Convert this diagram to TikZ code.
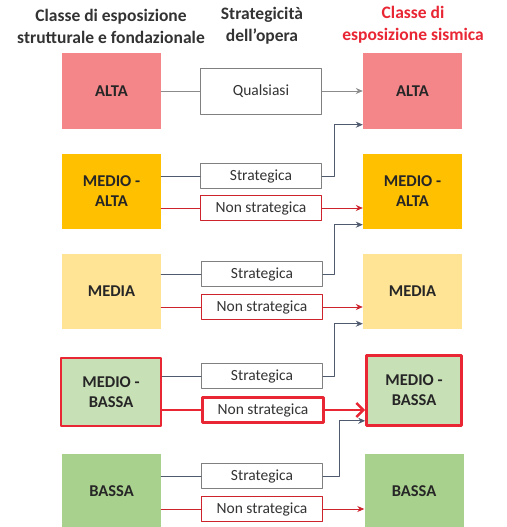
\documentclass[tikz,border=0pt]{standalone}
\usepackage{fontspec}
\setmainfont{Carlito}
\usetikzlibrary{arrows.meta}
\definecolor{altac}{RGB}{244,134,138}
\definecolor{medaltac}{RGB}{255,192,0}
\definecolor{mediac}{RGB}{255,228,150}
\definecolor{medbassac}{RGB}{200,224,182}
\definecolor{bassac}{RGB}{169,209,142}
\definecolor{redc}{RGB}{205,35,45}
\definecolor{hotred}{RGB}{232,38,52}
\definecolor{connc}{RGB}{80,90,110}
\tikzset{
  classe/.style={minimum width=99pt,minimum height=75pt,align=center,
    font=\fontsize{16.5}{20}\selectfont\bfseries,text=black!85,inner sep=0pt},
  strat/.style={draw=black!50,line width=0.9pt,fill=white,minimum width=121pt,
    minimum height=25pt,font=\fontsize{15.5}{17}\selectfont,text=black!80,inner sep=0pt},
  nonstrat/.style={strat,draw=redc},
  conn/.style={draw=connc,line width=0.9pt},
  redline/.style={draw=redc,line width=0.9pt},
  tip/.style={-{Stealth[length=7pt,width=6pt]}},
  head/.style={align=center,font=\fontsize{17.5}{22}\selectfont\bfseries,text=black!80}
}
\begin{document}
\begin{tikzpicture}[x=1pt,y=-1pt,line cap=round,line join=round]
  \useasboundingbox (0,0) rectangle (506,527);
  \clip (0,0) rectangle (506,527);
  % intestazioni
  \node[head] (h1) at (111,26) {Classe di esposizione\\strutturale e fondazionale};
  \node[head] (h2) at (262,26) {Strategicit\`a\\dell'opera};
  \node[head,text=hotred] (h3) at (413,25) {Classe di\\esposizione sismica};
  % classi
  \node[classe,fill=altac] (l1) at (111.5,91) {ALTA};
  \node[classe,fill=medaltac] (l2) at (111.5,191) {MEDIO -\\ALTA};
  \node[classe,fill=mediac] (l3) at (111.5,291) {MEDIA};
  \node[classe,fill=medbassac,draw=hotred,line width=2.6pt,minimum width=100pt,minimum height=68pt] (l4) at (111,392) {MEDIO -\\BASSA};
  \node[classe,fill=bassac] (l5) at (111.5,491) {BASSA};
  \node[classe,fill=altac] (r1) at (412.5,91) {ALTA};
  \node[classe,fill=medaltac] (r2) at (412.5,191) {MEDIO -\\ALTA};
  \node[classe,fill=mediac] (r3) at (412.5,291) {MEDIA};
  \node[classe,fill=medbassac,draw=hotred,line width=2.6pt,minimum width=95pt,minimum height=70pt] (r4) at (414,390.5) {MEDIO -\\BASSA};
  \node[classe,fill=bassac] (r5) at (414,491) {BASSA};
  % strategicita
  \node[strat,minimum height=46pt] (q1) at (261,91) {Qualsiasi};
  \node[strat] (s2) at (261,176) {Strategica};
  \node[nonstrat] (n2) at (261,208) {Non strategica};
  \node[strat] (s3) at (262,274) {Strategica};
  \node[nonstrat] (n3) at (262,307) {Non strategica};
  \node[strat] (s4) at (262,376) {Strategica};
  \node[nonstrat,draw=hotred,line width=2.6pt] (n4) at (263,410) {Non strategica};
  \node[strat] (s5) at (262,476) {Strategica};
  \node[nonstrat] (n5) at (262,509) {Non strategica};
  % collegamenti
  \draw[draw=black!45,line width=0.9pt] (l1) -- (q1);
  \draw[draw=black!45,line width=0.9pt,tip] (q1) -- (r1);
  \draw[conn] (s2.west -| l2.east) -- (s2.west);
  \draw[conn] (s3.west -| l3.east) -- (s3.west);
  \draw[conn] (s4.west -| l4.east) -- (s4.west);
  \draw[conn] (s5.west -| l5.east) -- (s5.west);
  \draw[conn,tip] (s2.east) -- ++(12,0) |- ([yshift=4pt]r1.south west);
  \draw[conn,tip] (s3.east) -- ++(11,0) |- ([yshift=4pt]r2.south west);
  \draw[conn,tip] (s4.east) -- ++(11,0) |- ([yshift=5pt]r3.south west);
  \draw[conn,tip] (s5.east) -- ++(16,0) |- ([yshift=6pt]r4.south west);
  \draw[redline] (n2.west -| l2.east) -- (n2.west);
  \draw[redline,tip] (n2) -- (n2 -| r2.west);
  \draw[redline] (n3.west -| l3.east) -- (n3.west);
  \draw[redline,tip] (n3) -- (n3 -| r3.west);
  \draw[redline] (n5.west -| l5.east) -- (n5.west);
  \draw[redline,tip] (n5) -- (n5 -| r5.west);
  \draw[draw=hotred,line width=2.6pt] (n4.west -| l4.east) -- (n4.west);
  \draw[draw=hotred,line width=2.6pt,-{Straight Barb[length=7pt,width=14pt]}] (n4) -- (n4 -| r4.west);
\end{tikzpicture}
\end{document}
